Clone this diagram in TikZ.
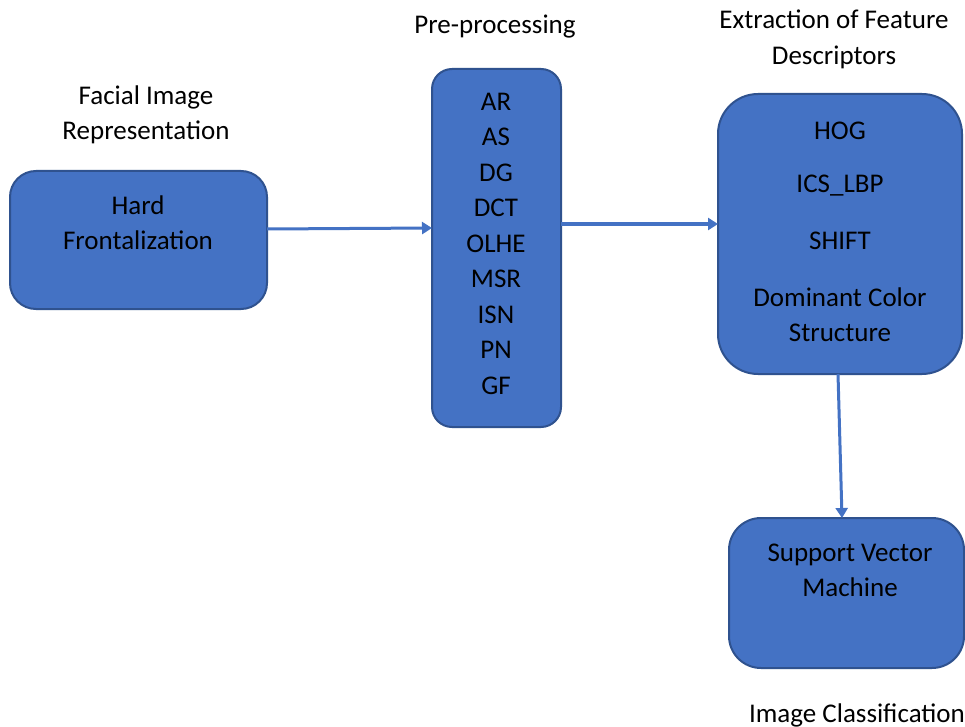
\documentclass[tikz,border=0pt]{standalone}
\usepackage{fontspec}
\setmainfont{Carlito}
\usetikzlibrary{arrows.meta}
\definecolor{boxfill}{HTML}{4472C4}
\definecolor{boxedge}{HTML}{2F528F}
\begin{document}
\begin{tikzpicture}[x=1pt,y=-1pt,
  blk/.style={draw=boxedge,line width=2pt,fill=boxfill,inner sep=0pt,outer sep=0pt},
  lbl/.style={font=\fontsize{27}{35.5}\selectfont,align=center,inner sep=0pt,text=black},
  conn/.style={draw=boxfill,line width=3pt,-{Triangle[length=10pt,width=12pt]}}]
\useasboundingbox[fill=white] (0,0) rectangle (965,727);
% boxes
\node[blk,rounded corners=26pt,minimum width=257pt,minimum height=138pt] (hf) at (138.5,240) {};
\node[blk,rounded corners=20pt,minimum width=129pt,minimum height=358pt] (pp) at (496.5,248) {};
\node[blk,rounded corners=40pt,minimum width=244pt,minimum height=280pt] (fd) at (840,234) {};
\node[blk,rounded corners=32pt,minimum width=235pt,minimum height=150pt] (svm) at (846.5,593) {};
% titles
\node[lbl] (t1) at (146,115) {Facial Image\\Representation};
\node[lbl] (t2) at (495,27) {Pre-processing};
\node[lbl] (t3) at (834,39.5) {Extraction of Feature\\Descriptors};
\node[lbl] (t4) at (857,715) {Image Classification};
% box texts
\node[lbl] (hftxt) at (138,222.5) {Hard\\Frontalization};
\node[lbl] (pptxt) at (496,243.5) {AR\\AS\\DG\\DCT\\OLHE\\MSR\\ISN\\PN\\GF};
\node[lbl] (fd1) at (840,131) {HOG};
\node[lbl] (fd2) at (840,186) {ICS\_LBP};
\node[lbl] (fd3) at (840,241) {SHIFT};
\node[lbl] (fd4) at (840,314.5) {Dominant Color\\Structure};
\node[lbl] (svmtxt) at (850,570.5) {Support Vector\\Machine};
% connectors
\draw[conn] ([yshift=11pt]hf.east) -- ([yshift=20pt]pp.west);
\draw[conn] ([yshift=24pt]pp.east) -- ([yshift=10pt]fd.west);
\draw[conn] ([xshift=-2pt]fd.south) -- ([xshift=-4.5pt]svm.north);
\end{tikzpicture}
\end{document}
